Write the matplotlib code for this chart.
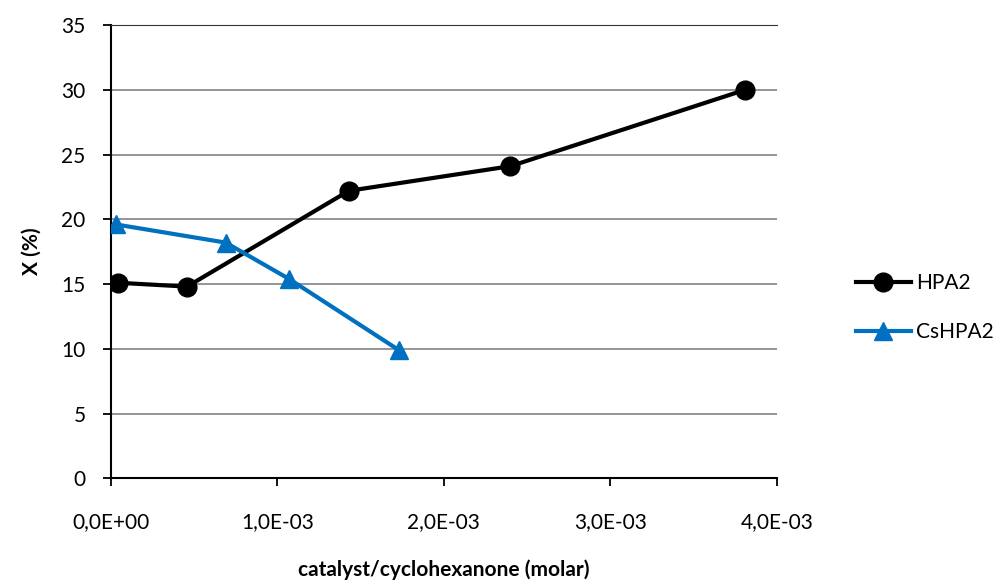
import matplotlib.pyplot as plt

# data
hpa2_x = [0.044e-3, 0.458e-3, 1.43e-3, 2.40e-3, 3.81e-3]
hpa2_y = [15.1, 14.8, 22.2, 24.1, 30.0]
cshpa2_x = [0.032e-3, 0.69e-3, 1.07e-3, 1.73e-3]
cshpa2_y = [19.6, 18.2, 15.4, 9.9]

x_ticks = [0, 1e-3, 2e-3, 3e-3, 4e-3]
x_tick_labels = ["0,0E+00", "1,0E-03", "2,0E-03", "3,0E-03", "4,0E-03"]
y_ticks = [0, 5, 10, 15, 20, 25, 30, 35]

plt.rcParams['font.family'] = ['Lato', 'DejaVu Sans']
fs = 15

fig = plt.figure(figsize=(10.02, 5.86), dpi=100)
ax = fig.add_axes([0.1105, 0.1838, 0.6649, 0.7735])

ax.plot(hpa2_x, hpa2_y, color='black', lw=3, marker='o', ms=13.5, label='HPA2', zorder=3)
ax.plot(cshpa2_x, cshpa2_y, color='#0070C0', lw=3, marker='^', ms=13, label='CsHPA2', zorder=3)

ax.set_xlim(0, 4e-3)
ax.set_ylim(0, 35)
ax.set_xticks(x_ticks)
ax.set_xticklabels(x_tick_labels)
ax.set_yticks(y_ticks)
ax.yaxis.grid(True, color='#8c8c8c', lw=1.3)
ax.set_axisbelow(True)
ax.spines['right'].set_visible(False)
ax.spines['top'].set_color('#333333')
for s in ['left', 'bottom']:
    ax.spines[s].set_linewidth(1.5)
ax.tick_params(direction='out', length=6, width=1.3, labelsize=fs)
ax.tick_params(axis='y', pad=12)
ax.tick_params(axis='x', pad=18)

ax.set_xlabel('catalyst/cyclohexanone (molar)', fontsize=fs, fontweight='bold', labelpad=20)
ax.set_ylabel('X (%)', fontsize=fs, fontweight='bold', labelpad=14)

ax.legend(loc='center left', bbox_to_anchor=(1.09, 0.376), frameon=False,
          fontsize=fs, handlelength=2.65, handletextpad=0.25, labelspacing=1.4)

fig.savefig('out.png', dpi=100)
